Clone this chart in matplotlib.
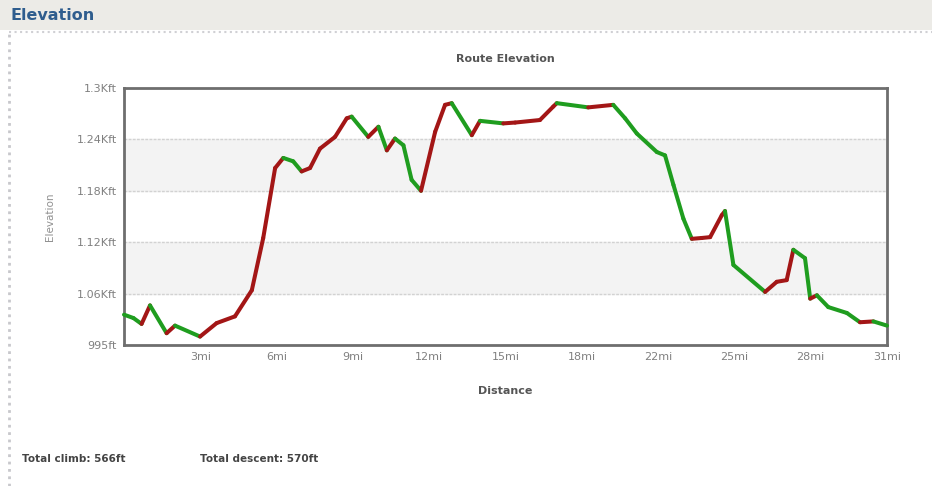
import numpy as np
import matplotlib
matplotlib.use('Agg')
from matplotlib import pyplot as plt
from matplotlib.patches import Rectangle
from matplotlib.collections import LineCollection

# route profile (miles, feet)
dist_mi = [0.0, 0.38, 0.71, 1.05, 1.72, 2.06, 3.07, 3.74, 4.48, 5.16,
           5.62, 6.10, 6.43, 6.83, 7.17, 7.51, 7.91, 8.52, 8.99, 9.19,
           9.86, 10.27, 10.61, 10.94, 11.28, 11.61, 11.99, 12.56, 12.96, 13.23,
           14.04, 14.37, 15.31, 15.79, 16.79, 17.33, 17.47, 18.74, 19.75, 20.23,
           20.70, 21.51, 21.84, 22.18, 22.58, 22.92, 23.32, 23.66, 24.13, 24.26,
           24.60, 25.88, 26.35, 26.75, 27.02, 27.49, 27.70, 27.97, 28.43, 29.18,
           29.71, 30.25, 30.80]
elev_ft = [1031, 1027, 1020, 1042, 1009, 1018, 1005, 1021, 1029, 1060,
           1122, 1205, 1217, 1213, 1201, 1205, 1228, 1242, 1264, 1266,
           1242, 1254, 1226, 1240, 1232, 1191, 1178, 1248, 1280, 1282,
           1244, 1261, 1258, 1259, 1262, 1278, 1282, 1277, 1280, 1264,
           1246, 1224, 1220, 1185, 1145, 1121, 1122, 1123, 1149, 1154,
           1090, 1058, 1070, 1072, 1108, 1098, 1050, 1054, 1040, 1033,
           1022, 1023, 1018]

x_max = 30.8
y_min, y_max = 995, 1300
x_tick_labels = ['3mi', '6mi', '9mi', '12mi', '15mi', '18mi', '22mi', '25mi', '28mi', '31mi']
y_tick_labels = ['995ft', '1.06Kft', '1.12Kft', '1.18Kft', '1.24Kft', '1.3Kft']
climb_text = 'Total climb: 566ft'
descent_text = 'Total descent: 570ft'

fig = plt.figure(figsize=(9.32, 4.86), dpi=100)
fig.patch.set_facecolor('white')

#header strip and panel border
fig.patches.append(Rectangle((0, 1 - 30/486), 1, 30/486, transform=fig.transFigure,
                             facecolor='#ecebe7', edgecolor='none', zorder=0))
fig.add_artist(plt.Line2D([9/932, 9/932], [0, 1 - 32/486], transform=fig.transFigure,
                          color='#c8c8cc', linestyle=':', linewidth=2))
fig.add_artist(plt.Line2D([9/932, 1], [1 - 32/486, 1 - 32/486], transform=fig.transFigure,
                          color='#d0d0d4', linestyle=':', linewidth=1.5))
fig.text(10/932, 1 - 16/486, 'Elevation', color='#2f5d8e', fontsize=11.5,
         fontweight='bold', va='center', ha='left')

ax = fig.add_axes([124/932, 1 - 345/486, 763/932, 257/486])
ax.set_xlim(0, x_max)
ax.set_ylim(y_min, y_max)

y_ticks = np.linspace(y_min, y_max, len(y_tick_labels))
x_ticks = np.linspace(0, x_max, len(x_tick_labels) + 1)[1:]

# alternate bands
for i in range(1, len(y_ticks) - 1, 2):
	ax.axhspan(y_ticks[i], y_ticks[i + 1], color='#f3f3f3', zorder=0)
for yt in y_ticks[1:-1]:
	ax.axhline(yt, color='#d2d2d2', linewidth=1, linestyle=(0, (2, 1)), zorder=1)

# red when climbing, green when descending
pts = np.column_stack([dist_mi, elev_ft])
segs = np.stack([pts[:-1], pts[1:]], axis=1)
cols = ['#a31616' if elev_ft[i + 1] > elev_ft[i] else '#1f9d1f' for i in range(len(elev_ft) - 1)]
lc = LineCollection(segs, colors=cols, linewidths=2.9, capstyle='round', joinstyle='round', zorder=3)
lc.set_clip_on(False)
ax.add_collection(lc)

ax.set_xticks(x_ticks)
ax.set_xticklabels(x_tick_labels)
ax.set_yticks(y_ticks)
ax.set_yticklabels(y_tick_labels)
ax.tick_params(length=0, labelsize=8, labelcolor='#808080', pad=5)
for s in ax.spines.values():
	s.set_color('#6e6e6e')
	s.set_linewidth(2)

ax.set_title('Route Elevation', fontsize=8, fontweight='bold', color='#555555', pad=19)
ax.set_xlabel('Distance', fontsize=8, fontweight='bold', color='#555555', labelpad=17)
ax.set_ylabel('Elevation', fontsize=7.5, color='#909090', labelpad=16)

fig.text(22/932, 1 - 459/486, climb_text, fontsize=7.5, fontweight='bold', color='#444444', va='center')
fig.text(200/932, 1 - 459/486, descent_text, fontsize=7.5, fontweight='bold', color='#444444', va='center')

plt.savefig('out.png', dpi=100)
